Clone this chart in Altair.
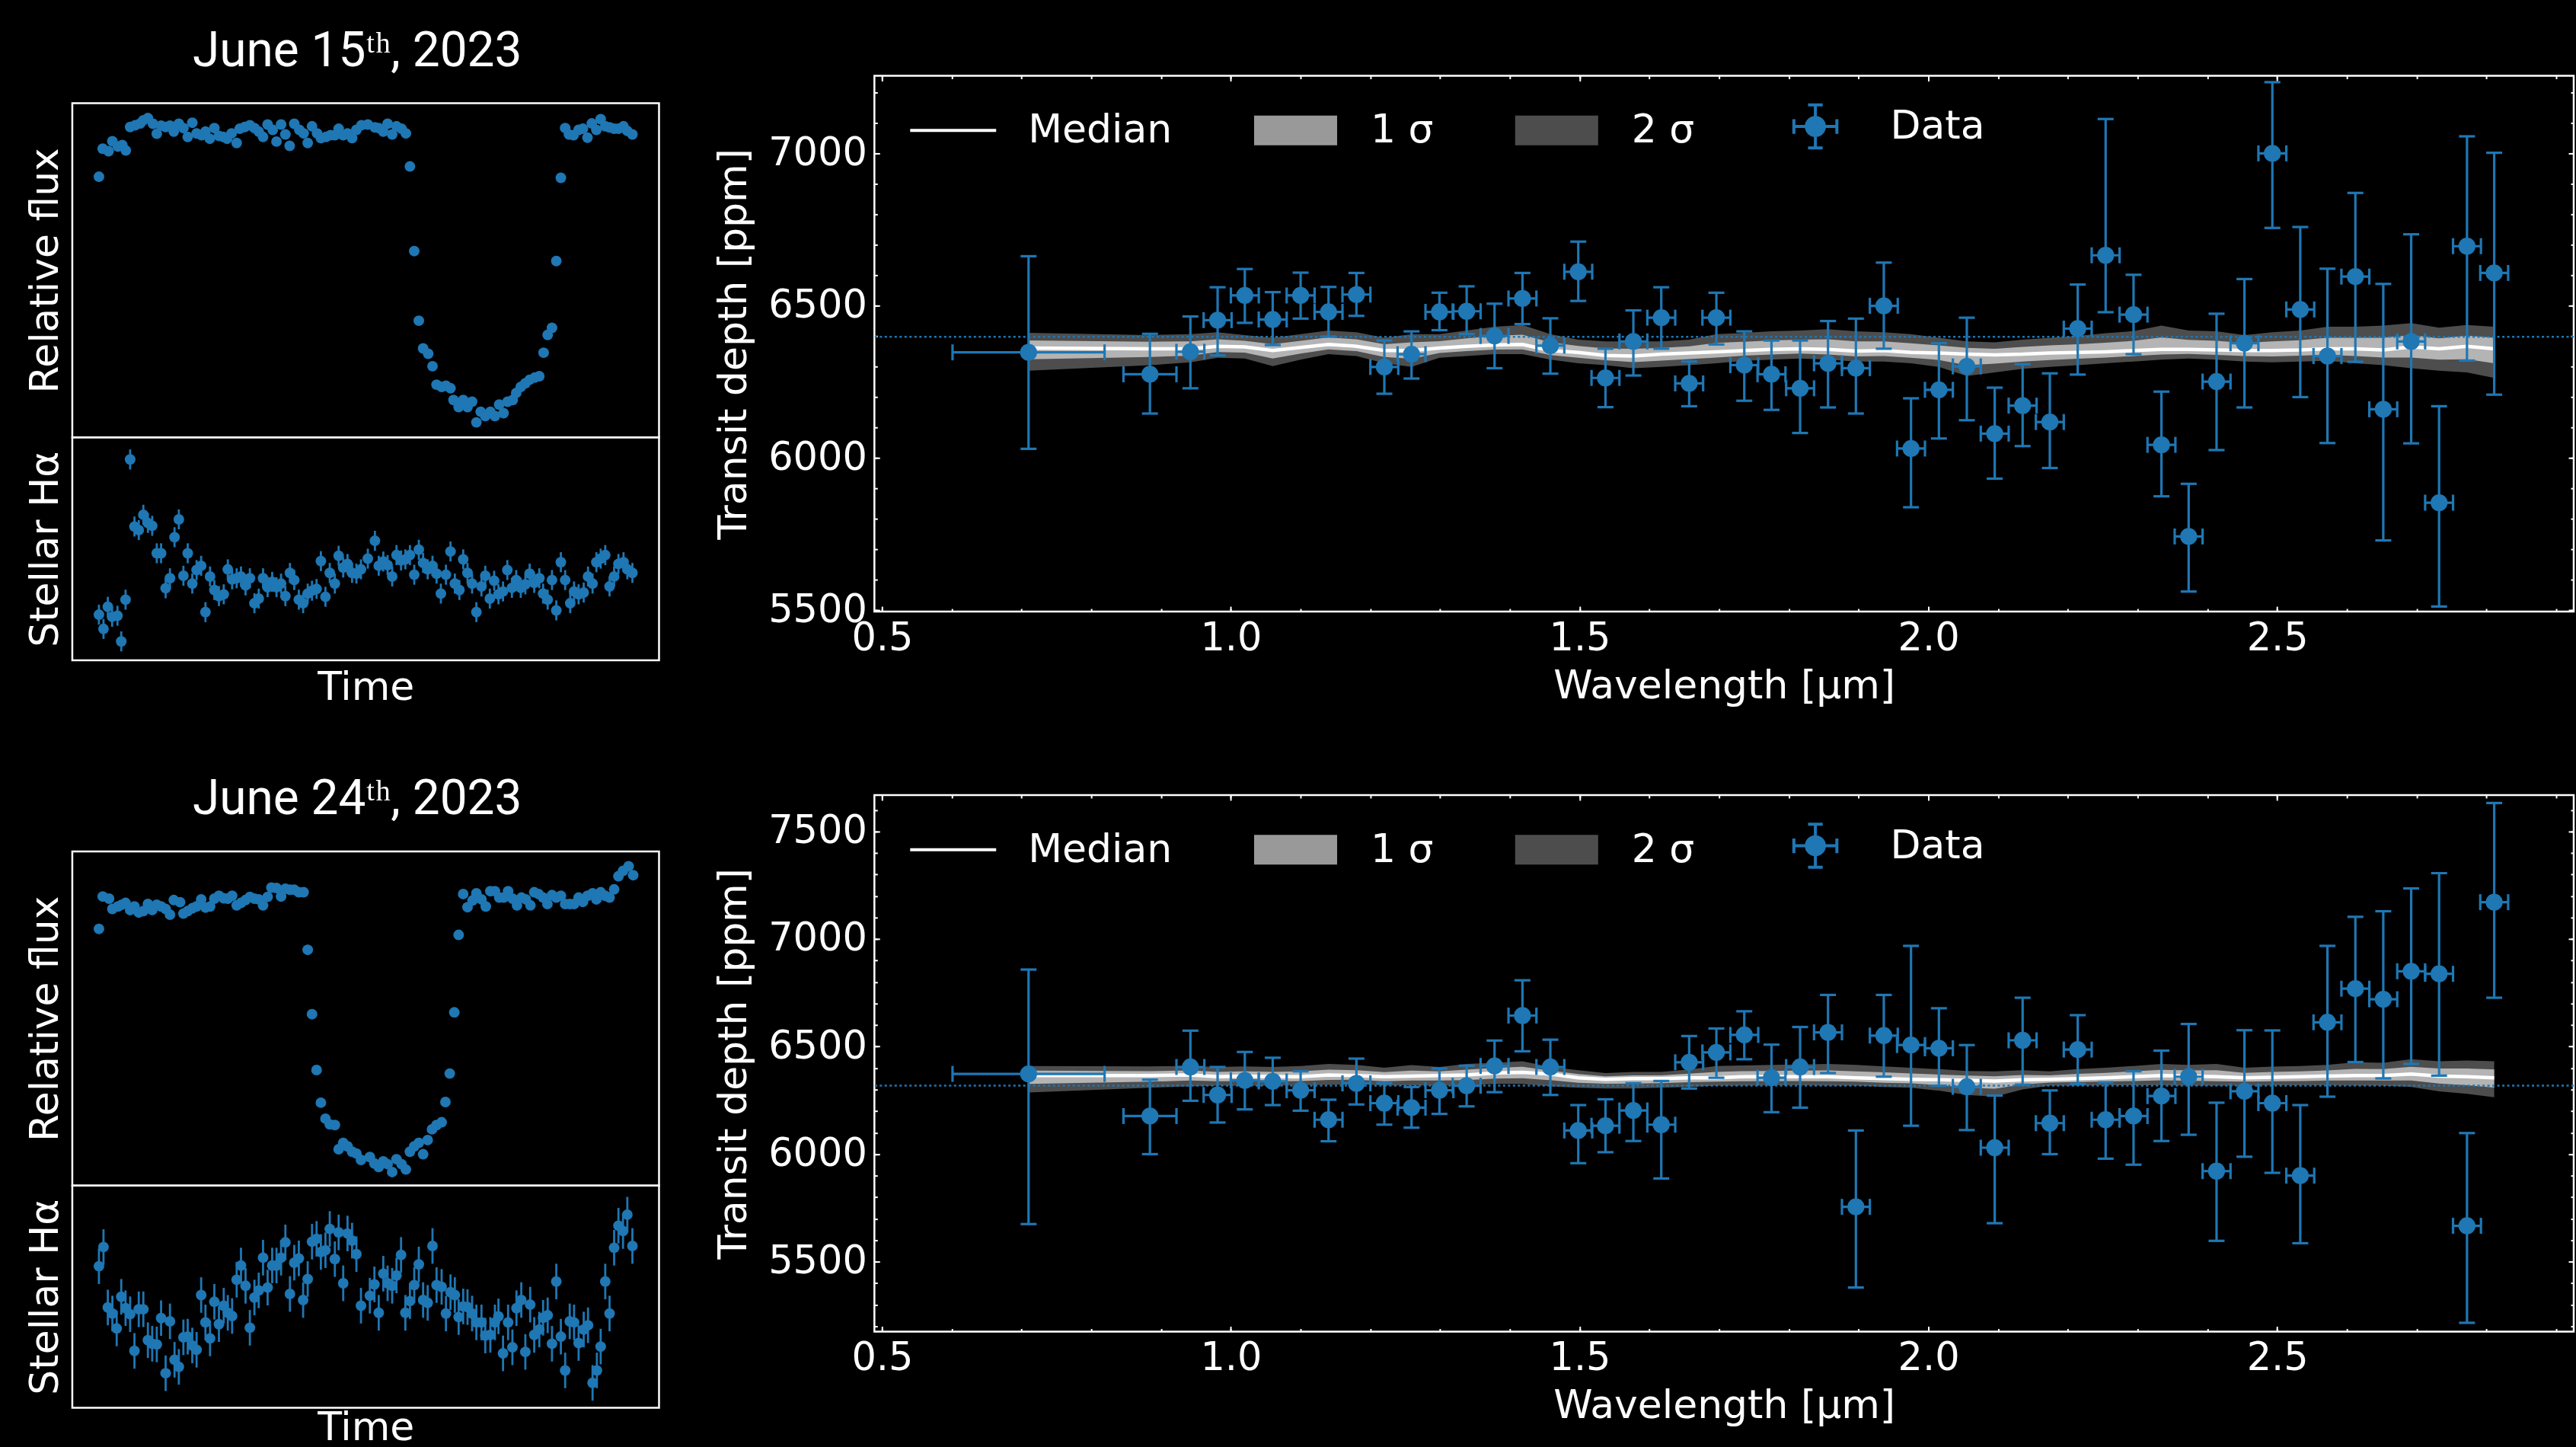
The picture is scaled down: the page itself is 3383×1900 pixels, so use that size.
import altair as alt
import pandas as pd

BLUE = "#1f77b4"
FONT = "DejaVu Sans"
TFONT = "Roboto"

# ---------------- Light curves (time in minutes, flux in ppm, H-alpha arbitrary units) -------------
lc1_flux_t = [10.5, 12.0, 14.3, 15.8, 18.0, 19.7, 21.1, 22.8, 24.8, 26.8,
              28.0, 29.8, 31.8, 33.3, 35.0, 36.8, 38.5, 40.0, 42.0, 43.8,
              45.5, 47.3, 49.0, 51.0, 52.5, 54.2, 56.0, 57.8, 59.5, 61.0,
              62.8, 64.8, 66.0, 68.0, 70.0, 71.8, 73.5, 75.2, 77.0, 79.0,
              80.5, 82.3, 84.0, 85.7, 87.5, 89.5, 91.2, 92.8, 94.5, 96.5,
              98.0, 100.0, 101.8, 103.5, 105.0, 106.8, 108.5, 110.3, 112.0, 114.0,
              116.5, 119.3, 120.8, 122.6, 124.3, 126.1, 127.8, 129.8, 131.5, 133.1,
              134.8, 136.6, 138.3, 140.3, 142.0, 143.6, 145.6, 147.3, 149.1, 150.3,
              152.3, 154.1, 155.8, 157.6, 159.3, 161.0, 162.8, 164.8, 166.6, 168.3,
              170.0, 171.6, 173.6, 175.0, 176.8, 178.6, 180.3, 182.3, 184.1, 185.8,
              187.4, 189.1, 190.8, 192.6, 194.3, 195.8, 197.6, 199.6, 201.3, 203.1,
              204.8, 206.6, 208.3, 210.1, 211.8, 213.6, 215.3, 217.3, 218.8, 220.8]
lc1_flux = [-1070, -280, -350, -70, -220, -180, -330, 330, 380, 430,
            520, 580, 420, 140, 370, 330, 370, 200, 420, 300,
            50, 450, 150, 100, 200, 0, 300, 80, 50, 0,
            150, -120, 280, 330, 380, 300, 200, 50, 400, 250,
            -80, 400, 120, -200, 420, 250, 150, -120, 350, 150,
            20, 50, 100, 100, 280, 100, 150, 20, 250, 380,
            400, 320, 300, 200, 420, 120, 350, 280, 150, -780,
            -3160, -5120, -5900, -6050, -6400, -6920, -6980, -6950, -7020, -7350,
            -7550, -7350, -7550, -7400, -7980, -7680, -7800, -7680, -7800, -7480,
            -7720, -7400, -7350, -7150, -6980, -6880, -6780, -6720, -6680, -6020,
            -5520, -5320, -3440, -1100, 300, 120, 100, 250, 280, 30,
            430, 250, 550, 350, 320, 280, 280, 350, 220, 120]
lc1_ha_t = [10.5, 12.3, 14.0, 15.7, 17.8, 19.3, 21.0, 22.8, 24.5, 26.2,
            28.0, 29.8, 31.5, 33.3, 35.0, 36.8, 38.5, 40.3, 42.0, 43.8,
            45.5, 47.3, 49.0, 50.8, 52.5, 54.3, 56.0, 57.8, 59.7, 61.3,
            63.0, 64.8, 66.5, 68.3, 70.0, 71.8, 73.5, 75.2, 77.0, 78.8,
            80.5, 82.3, 84.0, 85.8, 87.5, 89.3, 91.0, 92.8, 94.5, 96.3,
            98.0, 99.8, 101.5, 103.5, 105.0, 106.8, 108.5, 110.3, 112.0, 113.8,
            116.5, 119.3, 120.8, 122.6, 124.3, 126.1, 127.8, 129.6, 131.3, 133.1,
            134.8, 136.6, 138.3, 140.1, 142.0, 143.6, 145.3, 147.3, 149.1, 150.8,
            152.6, 154.1, 155.8, 157.6, 159.3, 161.3, 162.8, 164.6, 166.3, 168.0,
            169.8, 171.5, 173.3, 175.0, 176.8, 178.6, 180.3, 182.1, 184.1, 185.6,
            187.4, 189.1, 190.8, 192.6, 194.3, 196.3, 197.8, 199.6, 201.6, 203.3,
            205.1, 206.6, 208.3, 210.1, 211.8, 213.6, 215.3, 217.3, 218.8, 220.8]
lc1_ha = [128, 88, 150, 122, 125, 53, 170, 563, 375, 365,
          408, 385, 377, 300, 300, 202, 230, 345, 395, 237,
          300, 215, 253, 265, 135, 235, 197, 180, 185, 255,
          227, 230, 235, 210, 230, 160, 173, 230, 205, 220,
          205, 215, 180, 245, 225, 170, 160, 187, 195, 200,
          278, 178, 245, 215, 293, 260, 270, 245, 243, 255,
          285, 335, 265, 277, 267, 235, 295, 280, 283, 295,
          240, 310, 273, 255, 265, 243, 187, 240, 305, 215,
          197, 283, 245, 215, 135, 207, 237, 173, 223, 185,
          193, 253, 203, 225, 203, 213, 243, 217, 230, 187,
          170, 225, 140, 275, 225, 160, 193, 185, 190, 235,
          215, 275, 285, 295, 207, 235, 270, 275, 255, 245]
lc1_ha_err = 28

lc2_flux_t = [10.5, 12.0, 14.5, 15.8, 18.0, 19.5, 21.0, 22.8, 24.5, 26.2,
              28.0, 29.8, 31.5, 33.3, 35.0, 36.8, 38.5, 40.0, 42.5, 43.8,
              45.5, 47.3, 49.0, 50.8, 52.5, 54.3, 56.0, 57.8, 59.7, 61.3,
              63.0, 64.8, 66.5, 68.3, 70.0, 71.8, 73.5, 75.2, 77.0, 78.5,
              80.5, 82.3, 84.0, 85.8, 87.5, 89.3, 91.2, 92.8, 94.5, 96.3,
              98.0, 99.8, 101.5, 103.5, 105.0, 106.8, 108.5, 110.3, 112.0, 113.8,
              117.3, 119.1, 120.8, 122.6, 124.3, 126.1, 127.8, 129.8, 131.5, 133.1,
              134.8, 136.6, 138.3, 140.1, 141.8, 143.6, 145.6, 147.1, 148.8, 150.6,
              152.3, 154.1, 155.8, 157.8, 159.3, 161.3, 163.0, 164.8, 166.6, 168.3,
              170.1, 171.8, 173.6, 175.3, 177.1, 178.8, 180.6, 182.1, 183.8, 185.6,
              187.3, 189.1, 190.8, 192.6, 194.3, 196.1, 197.8, 199.6, 201.3, 203.1,
              205.1, 206.6, 208.3, 210.1, 211.8, 213.6, 215.3, 217.1, 219.3, 221.1]
lc2_flux = [-1180, -270, -330, -620, -550, -500, -450, -650, -550, -720,
            -680, -480, -650, -500, -550, -620, -780, -370, -430, -750,
            -680, -600, -550, -350, -580, -550, -330, -250, -320, -330,
            -250, -520, -450, -370, -280, -330, -350, -520, -280, -20,
            -30, -270, -50, -80, -80, -150, -150, -1770, -3580, -5150,
            -6070, -6520, -6680, -6700, -7380, -7200, -7300, -7450, -7500, -7680,
            -7600, -7780, -7880, -7720, -7800, -8020, -7660, -7800, -7950, -7450,
            -7300, -7200, -7520, -7120, -6820, -6700, -6620, -6050, -5250, -3530,
            -1350, -200, -570, -380, -180, -350, -550, -120, -120, -300,
            -300, -120, -330, -520, -300, -350, -520, -150, -200, -300,
            -480, -230, -300, -250, -480, -480, -480, -300, -420, -250,
            -180, -350, -150, -250, -300, -70, 300, 450, 580, 330]
lc2_ha_t = [10.5, 12.3, 14.0, 15.8, 17.5, 19.3, 21.0, 22.8, 24.5, 26.2,
            28.0, 29.8, 31.5, 33.3, 35.0, 36.8, 38.5, 40.3, 42.0, 43.8,
            45.5, 47.3, 49.0, 50.8, 52.5, 54.3, 56.0, 57.8, 59.7, 61.3,
            63.0, 64.8, 66.5, 68.3, 70.0, 71.8, 73.5, 75.2, 77.0, 78.8,
            80.5, 82.3, 84.0, 85.8, 87.5, 89.3, 91.0, 92.8, 94.5, 96.3,
            98.0, 99.8, 101.5, 103.5, 105.0, 106.8, 108.5, 110.3, 112.0, 113.8,
            117.3, 119.1, 120.8, 122.6, 124.3, 126.1, 127.8, 129.6, 131.3, 133.1,
            134.8, 136.6, 138.3, 140.1, 142.0, 143.6, 145.6, 147.3, 149.1, 150.8,
            152.3, 154.1, 155.8, 157.6, 159.3, 161.3, 162.8, 164.8, 166.6, 168.0,
            169.8, 171.8, 173.5, 175.1, 177.0, 178.6, 180.5, 182.1, 184.1, 185.6,
            187.4, 189.1, 190.8, 192.6, 194.3, 196.1, 197.8, 199.6, 201.6, 203.3,
            205.1, 206.8, 208.3, 210.1, 211.8, 213.6, 215.3, 217.1, 218.8, 220.8]
lc2_ha = [398, 452, 282, 265, 223, 312, 280, 263, 160, 277,
          277, 190, 180, 178, 252, 97, 243, 135, 115, 198,
          200, 175, 163, 317, 240, 195, 298, 235, 287, 267,
          258, 360, 400, 343, 225, 310, 330, 422, 338, 400,
          400, 422, 465, 320, 408, 420, 303, 362, 467, 475,
          438, 443, 503, 418, 493, 350, 490, 470, 432, 287,
          315, 347, 267, 377, 350, 343, 372, 430, 267, 300,
          345, 403, 303, 295, 455, 345, 340, 265, 325, 317,
          255, 285, 283, 265, 240, 240, 203, 205, 240, 257,
          153, 240, 170, 280, 303, 157, 290, 205, 220, 253,
          260, 180, 355, 200, 105, 243, 240, 182, 220, 232,
          70, 105, 172, 355, 265, 450, 512, 497, 543, 455]
lc2_ha_err = 50

# ---------------- Transmission spectra -------------
wavelength = [0.710, 0.884, 0.942, 0.981, 1.020, 1.060, 1.100, 1.140, 1.180, 1.220,
              1.259, 1.299, 1.338, 1.378, 1.418, 1.458, 1.498, 1.537, 1.577, 1.617,
              1.657, 1.696, 1.736, 1.775, 1.816, 1.856, 1.896, 1.936, 1.975, 2.015,
              2.055, 2.095, 2.135, 2.174, 2.214, 2.254, 2.294, 2.334, 2.373, 2.413,
              2.453, 2.493, 2.533, 2.572, 2.612, 2.652, 2.692, 2.732, 2.772, 2.811]
wl_halfwidth = [0.109, 0.038, 0.020, 0.020, 0.020, 0.020, 0.020, 0.020, 0.020, 0.020,
                0.020, 0.020, 0.020, 0.020, 0.020, 0.020, 0.020, 0.020, 0.020, 0.020,
                0.020, 0.020, 0.020, 0.020, 0.020, 0.020, 0.020, 0.020, 0.020, 0.020,
                0.020, 0.020, 0.020, 0.020, 0.020, 0.020, 0.020, 0.020, 0.020, 0.020,
                0.020, 0.020, 0.020, 0.020, 0.020, 0.020, 0.020, 0.020, 0.020, 0.020]

depth1 = [6347, 6275, 6349, 6453, 6534, 6455, 6534, 6480, 6537, 6299,
          6341, 6480, 6482, 6401, 6524, 6369, 6612, 6263, 6383, 6461,
          6245, 6461, 6305, 6275, 6229, 6311, 6295, 6500, 6031, 6224,
          6301, 6080, 6172, 6118, 6425, 6666, 6471, 6043, 5742, 6251,
          6377, 7001, 6488, 6335, 6596, 6160, 6383, 5853, 6696, 6608]
err_up1 = [316, 133, 116, 108, 87, 90, 75, 82, 71, 87,
           75, 63, 82, 106, 84, 90, 99, 96, 102, 100,
           72, 82, 111, 111, 157, 139, 163, 142, 165, 153,
           160, 151, 136, 160, 145, 448, 131, 175, 173, 223,
           211, 234, 271, 287, 275, 412, 352, 317, 361, 395]
err_lo1 = [317, 129, 120, 116, 90, 84, 76, 81, 70, 88,
           80, 60, 75, 106, 84, 92, 96, 96, 112, 102,
           75, 88, 117, 117, 147, 145, 149, 141, 193, 160,
           177, 148, 133, 151, 151, 187, 130, 169, 181, 225,
           211, 245, 288, 286, 280, 431, 335, 341, 376, 400]
median1 = [6361, 6359, 6359, 6367, 6365, 6353, 6363, 6373, 6367, 6353,
           6353, 6361, 6367, 6371, 6373, 6353, 6347, 6337, 6335, 6341,
           6345, 6349, 6353, 6357, 6359, 6357, 6351, 6353, 6347, 6345,
           6341, 6339, 6341, 6345, 6347, 6349, 6353, 6357, 6357, 6355,
           6353, 6353, 6355, 6359, 6359, 6355, 6365, 6359, 6367, 6359]
s1_hi1 = [6386, 6382, 6383, 6390, 6385, 6374, 6385, 6396, 6390, 6374,
          6380, 6384, 6393, 6401, 6405, 6380, 6368, 6360, 6359, 6362,
          6367, 6378, 6382, 6386, 6389, 6390, 6383, 6383, 6377, 6370,
          6362, 6359, 6365, 6370, 6374, 6379, 6385, 6396, 6388, 6385,
          6378, 6383, 6387, 6395, 6395, 6395, 6404, 6393, 6402, 6395]
s1_lo1 = [6324, 6332, 6336, 6348, 6346, 6327, 6343, 6357, 6351, 6332,
          6326, 6345, 6351, 6356, 6357, 6338, 6329, 6321, 6315, 6320,
          6325, 6330, 6336, 6340, 6343, 6340, 6334, 6335, 6329, 6322,
          6305, 6310, 6317, 6322, 6326, 6330, 6335, 6340, 6342, 6339,
          6335, 6334, 6336, 6339, 6335, 6330, 6330, 6323, 6324, 6311]
s2_hi1 = [6411, 6404, 6407, 6413, 6404, 6395, 6407, 6419, 6413, 6395,
          6407, 6407, 6419, 6431, 6437, 6407, 6389, 6383, 6383, 6383,
          6389, 6407, 6411, 6416, 6419, 6423, 6416, 6413, 6407, 6395,
          6383, 6380, 6389, 6395, 6401, 6410, 6417, 6435, 6419, 6416,
          6404, 6413, 6419, 6431, 6431, 6435, 6443, 6428, 6437, 6431]
s2_lo1 = [6287, 6305, 6314, 6329, 6327, 6302, 6323, 6341, 6335, 6311,
          6299, 6329, 6335, 6341, 6341, 6323, 6311, 6305, 6295, 6299,
          6305, 6311, 6319, 6323, 6327, 6323, 6317, 6317, 6311, 6299,
          6269, 6281, 6293, 6299, 6305, 6311, 6317, 6323, 6327, 6323,
          6317, 6314, 6317, 6319, 6311, 6305, 6295, 6287, 6281, 6263]
ref_level1 = 6398

depth2 = [6373, 6177, 6405, 6275, 6343, 6338, 6297, 6160, 6329, 6237,
          6216, 6297, 6318, 6410, 6644, 6405, 6110, 6132, 6203, 6137,
          6427, 6473, 6554, 6355, 6405, 6566, 5755, 6551, 6507, 6492,
          6313, 6030, 6529, 6144, 6486, 6160, 6177, 6270, 6360, 5921,
          6292, 6237, 5900, 6613, 6769, 6720, 6850, 6838, 5667, 7171]
err_up2 = [485, 169, 169, 130, 132, 110, 88, 93, 115, 93,
           96, 101, 93, 118, 164, 127, 118, 123, 127, 203,
           122, 111, 110, 154, 186, 174, 355, 189, 461, 186,
           194, 242, 198, 152, 160, 174, 208, 211, 245, 318,
           284, 338, 328, 355, 334, 409, 385, 468, 431, 461]
err_lo2 = [698, 177, 157, 128, 135, 110, 95, 100, 98, 100,
           93, 110, 96, 122, 166, 130, 152, 123, 142, 250,
           122, 118, 113, 160, 189, 189, 375, 191, 375, 174,
           201, 351, 206, 144, 160, 181, 226, 209, 270, 324,
           304, 324, 314, 346, 341, 368, 431, 473, 451, 444]
median2 = [6365, 6365, 6368, 6360, 6363, 6360, 6360, 6368, 6365, 6360,
           6363, 6365, 6368, 6377, 6380, 6372, 6355, 6348, 6351, 6351,
           6355, 6355, 6360, 6360, 6360, 6360, 6355, 6351, 6348, 6346,
           6343, 6340, 6346, 6348, 6351, 6355, 6360, 6365, 6363, 6360,
           6355, 6357, 6360, 6363, 6365, 6365, 6372, 6363, 6360, 6355]
s1_hi2 = [6388, 6386, 6389, 6382, 6385, 6382, 6385, 6393, 6390, 6381,
          6388, 6385, 6393, 6401, 6406, 6388, 6372, 6362, 6366, 6366,
          6374, 6382, 6386, 6387, 6388, 6389, 6385, 6380, 6375, 6370,
          6365, 6362, 6368, 6366, 6373, 6378, 6385, 6392, 6389, 6390,
          6378, 6382, 6385, 6389, 6396, 6395, 6406, 6398, 6398, 6394]
s1_lo2 = [6326, 6337, 6342, 6339, 6340, 6339, 6340, 6345, 6346, 6339,
          6342, 6342, 6344, 6351, 6353, 6344, 6332, 6327, 6328, 6330,
          6334, 6337, 6339, 6340, 6340, 6339, 6337, 6332, 6329, 6321,
          6309, 6304, 6324, 6333, 6335, 6338, 6340, 6343, 6341, 6339,
          6337, 6339, 6340, 6342, 6342, 6342, 6342, 6328, 6320, 6310]
s2_hi2 = [6410, 6408, 6410, 6405, 6408, 6405, 6410, 6419, 6415, 6402,
          6414, 6405, 6419, 6425, 6432, 6405, 6390, 6377, 6382, 6382,
          6394, 6410, 6412, 6415, 6417, 6419, 6415, 6408, 6402, 6395,
          6387, 6385, 6390, 6385, 6395, 6402, 6410, 6419, 6415, 6419,
          6402, 6407, 6410, 6415, 6427, 6425, 6441, 6432, 6435, 6432]
s2_lo2 = [6287, 6309, 6315, 6318, 6318, 6318, 6320, 6322, 6326, 6318,
          6320, 6318, 6320, 6326, 6326, 6315, 6309, 6305, 6305, 6309,
          6312, 6318, 6318, 6320, 6320, 6318, 6318, 6312, 6309, 6295,
          6275, 6267, 6301, 6318, 6318, 6320, 6320, 6320, 6318, 6318,
          6318, 6320, 6320, 6320, 6318, 6318, 6312, 6292, 6280, 6264]
ref_level2 = 6318

x_major = [0.5, 1.0, 1.5, 2.0, 2.5]
x_minor = [0.5, 0.6, 0.7, 0.8, 0.9, 1.0, 1.1, 1.2, 1.3, 1.4, 1.5, 1.6, 1.7,
           1.8, 1.9, 2.0, 2.1, 2.2, 2.3, 2.4, 2.5, 2.6, 2.7, 2.8, 2.9]
y1_major = [5500, 6000, 6500, 7000]
y1_minor = [5500, 5600, 5700, 5800, 5900, 6000, 6100, 6200, 6300, 6400, 6500,
            6600, 6700, 6800, 6900, 7000, 7100, 7200]
y2_major = [5500, 6000, 6500, 7000, 7500]
y2_minor = [5200, 5300, 5400, 5500, 5600, 5700, 5800, 5900, 6000, 6100, 6200,
            6300, 6400, 6500, 6600, 6700, 6800, 6900, 7000, 7100, 7200, 7300,
            7400, 7500, 7600]

legend_labels = ["Median", "1 σ", "2 σ", "Data"]
legend_colors = ["#ffffff", "#999999", "#4d4d4d", BLUE]

XDOM = [0.489, 2.925]
TDOM = [0, 231.3]
FDOM = [-8400, 1000]
HDOM = [0, 625]

side_axis = dict(labels=False, ticks=False, domain=False, grid=False,
                 titleFont=FONT, titleFontSize=52, titleFontWeight="normal",
                 titleColor="white")


def lc_flux(t, f, title):
    df = pd.DataFrame({"t": t, "f": f})
    return alt.Chart(df).mark_circle(size=195, color=BLUE, opacity=1).encode(
        x=alt.X("t:Q", scale=alt.Scale(domain=TDOM, nice=False, zero=False), axis=None),
        y=alt.Y("f:Q", scale=alt.Scale(domain=FDOM, nice=False, zero=False),
                axis=alt.Axis(title="Relative flux", titlePadding=8, **side_axis)),
    ).properties(width=771, height=439,
                 title=alt.TitleParams(text=title, font=TFONT, fontSize=64, fontWeight="normal",
                                       color="white", anchor="middle", baseline="alphabetic",
                                       offset=45, dy=60, dx=-11, frame="group"))


def lc_ha(t, h, err, height, time_pad):
    df = pd.DataFrame({"t": t, "h": h})
    df["lo"] = df["h"] - err
    df["hi"] = df["h"] + err
    xs = alt.Scale(domain=TDOM, nice=False, zero=False)
    ys = alt.Scale(domain=HDOM, nice=False, zero=False)
    xax = alt.Axis(title="Time", titlePadding=time_pad, titleBaseline="bottom", **side_axis)
    yax = alt.Axis(title="Stellar Hα", titlePadding=8, **side_axis)
    base = alt.Chart(df)
    bars = base.mark_rule(color=BLUE, strokeWidth=2.8).encode(
        x=alt.X("t:Q", scale=xs, axis=xax),
        y=alt.Y("lo:Q", scale=ys, axis=yax), y2="hi:Q")
    pts = base.mark_circle(size=195, color=BLUE, opacity=1).encode(
        x=alt.X("t:Q", scale=xs, axis=xax),
        y=alt.Y("h:Q", scale=ys, axis=yax))
    return alt.layer(bars, pts).properties(width=771, height=height)


def spacer(h):
    return alt.Chart(pd.DataFrame({"a": [0]})).mark_point(opacity=0).encode(
        x=alt.X("a:Q", axis=None), y=alt.Y("a:Q", axis=None)
    ).properties(width=771, height=h, view=alt.ViewBackground(stroke="transparent"))


def spectrum(depth, eu, el, med, lo1, hi1, lo2, hi2, ref, ydom, ymaj, ymin, height):
    df = pd.DataFrame({"w": wavelength, "xe": wl_halfwidth, "d": depth, "eu": eu, "el": el})
    df["dlo"] = df["d"] - df["el"]
    df["dhi"] = df["d"] + df["eu"]
    df["wlo"] = df["w"] - df["xe"]
    df["whi"] = df["w"] + df["xe"]
    mdf = pd.DataFrame({"w": wavelength, "med": med, "lo1": lo1, "hi1": hi1, "lo2": lo2, "hi2": hi2})
    xs = alt.Scale(domain=XDOM, nice=False, zero=False)
    ys = alt.Scale(domain=ydom, nice=False, zero=False)

    def tick_layer(ox, oy, xv, yv, size):
        ax = alt.Axis(orient=ox, offset=-size, tickSize=size, tickWidth=2, tickColor="white",
                      values=xv, labels=False, domain=False, grid=False, title=None)
        ay = alt.Axis(orient=oy, offset=-size, tickSize=size, tickWidth=2, tickColor="white",
                      values=yv, labels=False, domain=False, grid=False, title=None)
        return alt.Chart(mdf).mark_point(opacity=0).encode(
            x=alt.X("w:Q", scale=xs, axis=ax), y=alt.Y("med:Q", scale=ys, axis=ay))

    ticks = [tick_layer("bottom", "left", x_major, ymaj, 7),
             tick_layer("bottom", "left", x_minor, ymin, 4),
             tick_layer("top", "right", x_major, ymaj, 7),
             tick_layer("top", "right", x_minor, ymin, 4)]

    band2 = alt.Chart(mdf).mark_area(color="#4d4d4d", opacity=1).encode(
        x=alt.X("w:Q", scale=xs, axis=None), y=alt.Y("lo2:Q", scale=ys, axis=None), y2="hi2:Q")
    band1 = alt.Chart(mdf).mark_area(color="#b4b4b4", opacity=1).encode(
        x=alt.X("w:Q", scale=xs, axis=None), y=alt.Y("lo1:Q", scale=ys, axis=None), y2="hi1:Q")
    mline = alt.Chart(mdf).mark_line(color="white", strokeWidth=4.5).encode(
        x=alt.X("w:Q", scale=xs, axis=None), y=alt.Y("med:Q", scale=ys, axis=None))
    refl = alt.Chart(pd.DataFrame({"r": [ref]})).mark_rule(
        color=BLUE, strokeDash=[3, 3.5], strokeWidth=2.5).encode(
        y=alt.Y("r:Q", scale=ys, axis=None))

    base = alt.Chart(df)
    xbar = base.mark_rule(color=BLUE, strokeWidth=3.2).encode(
        x=alt.X("wlo:Q", scale=xs, axis=None), x2="whi:Q", y=alt.Y("d:Q", scale=ys, axis=None))
    ybar = base.mark_rule(color=BLUE, strokeWidth=3.2).encode(
        x=alt.X("w:Q", scale=xs, axis=None), y=alt.Y("dlo:Q", scale=ys, axis=None), y2="dhi:Q")
    capt = base.mark_tick(orient="horizontal", size=21, thickness=3.2, color=BLUE, opacity=1)
    cap_hi = capt.encode(x=alt.X("w:Q", scale=xs, axis=None), y=alt.Y("dhi:Q", scale=ys, axis=None))
    cap_lo = capt.encode(x=alt.X("w:Q", scale=xs, axis=None), y=alt.Y("dlo:Q", scale=ys, axis=None))
    capv = base.mark_tick(orient="vertical", size=21, thickness=3.2, color=BLUE, opacity=1)
    cap_l = capv.encode(x=alt.X("wlo:Q", scale=xs, axis=None), y=alt.Y("d:Q", scale=ys, axis=None))
    cap_r = capv.encode(x=alt.X("whi:Q", scale=xs, axis=None), y=alt.Y("d:Q", scale=ys, axis=None))

    pts = base.mark_circle(size=500, color=BLUE, opacity=1).encode(
        x=alt.X("w:Q", scale=xs, axis=alt.Axis(
            orient="bottom", values=x_major, format=".1f", labelFont=FONT, labelFontSize=51,
            labelColor="white", labelPadding=10, ticks=False, tickSize=0, domain=False, grid=False,
            labelFlush=False, labelOverlap=False, title="Wavelength [µm]", titleFont=FONT,
            titleFontSize=52, titleFontWeight="normal", titleColor="white", titlePadding=12)),
        y=alt.Y("d:Q", scale=ys, axis=alt.Axis(
            orient="left", values=ymaj, format="d", labelFont=FONT, labelFontSize=51,
            labelColor="white", labelPadding=10, ticks=False, tickSize=0, domain=False, grid=False,
            labelFlush=False, labelOverlap=False, title="Transit depth [ppm]", titleFont=FONT,
            titleFontSize=52, titleFontWeight="normal", titleColor="white", titlePadding=18)))

    paths = [
        "M-1,0H1",
        "M-0.93,-0.31H0.93V0.31H-0.93Z",
        "M-0.93,-0.31H0.93V0.31H-0.93Z",
        "M-0.5,0H0.5M0,-0.5V0.5M-0.17,-0.5H0.17M-0.17,0.5H0.17M-0.5,-0.17V0.17M0.5,-0.17V0.17"
        "M0.21,0C0.21,0.116,0.116,0.21,0,0.21C-0.116,0.21,-0.21,0.116,-0.21,0"
        "C-0.21,-0.116,-0.116,-0.21,0,-0.21C0.116,-0.21,0.21,-0.116,0.21,0Z",
    ]
    leg = alt.Legend(title=None, orient="none", legendX=45, legendY=8, direction="horizontal",
                     symbolSize=12769, symbolStrokeWidth=4, symbolOpacity=1,
                     labelFont=FONT, labelFontSize=52, labelColor="white", labelOffset=40,
                     labelLimit=500, columnPadding=100, padding=0, symbolLimit=0)
    ldf = pd.DataFrame({"series": legend_labels, "w": [1.0, 1.0, 1.0, 1.0],
                        "d": [6300, 6300, 6300, 6300]})
    legl = alt.Chart(ldf).mark_point(filled=True, opacity=0, size=1).encode(
        x=alt.X("w:Q", scale=xs, axis=None), y=alt.Y("d:Q", scale=ys, axis=None),
        fill=alt.Fill("series:N", scale=alt.Scale(domain=legend_labels, range=legend_colors), legend=leg),
        stroke=alt.Stroke("series:N", scale=alt.Scale(domain=legend_labels, range=legend_colors), legend=leg),
        shape=alt.Shape("series:N", scale=alt.Scale(domain=legend_labels, range=paths), legend=leg),
    )

    layers = ticks + [band2, band1, mline, refl, xbar, ybar, cap_hi, cap_lo, cap_l, cap_r, pts, legl]
    return alt.layer(*layers).resolve_axis(x="independent", y="independent").properties(
        width=2233, height=height)


lc1_f = lc_flux(lc1_flux_t, lc1_flux, "June 15ᵗʰ, 2023")
lc1_h = lc_ha(lc1_ha_t, lc1_ha, lc1_ha_err, 293, 62)
lc2_f = lc_flux(lc2_flux_t, lc2_flux, "June 24ᵗʰ, 2023")
lc2_h = lc_ha(lc2_ha_t, lc2_ha, lc2_ha_err, 292, 53)

spec1 = spectrum(depth1, err_up1, err_lo1, median1, s1_lo1, s1_hi1, s2_lo1, s2_hi1, ref_level1,
                 [5495, 7256], y1_major, y1_minor, 704)
spec2 = spectrum(depth2, err_up2, err_lo2, median2, s1_lo2, s1_hi2, s2_lo2, s2_hi2, ref_level2,
                 [5175, 7669], y2_major, y2_minor, 705)

left = alt.vconcat(spacer(36), lc1_f, lc1_h, spacer(251), lc2_f, lc2_h, spacing=0, bounds="flush")
right = alt.vconcat(spec1, spec2, spacing=241, bounds="flush").resolve_scale(
    fill="independent", stroke="independent", shape="independent").resolve_legend(
    fill="independent", stroke="independent", shape="independent")

# nested concat groups count as zero width in a flush layout, so spacing = left width + gap
chart = alt.hconcat(left, right, spacing=1054, bounds="flush").resolve_scale(
    fill="independent", stroke="independent", shape="independent").configure(
    background="black", padding={"left": 32, "top": 33, "right": 0, "bottom": 0}
).configure_view(stroke="white", strokeWidth=2.5)

chart.save("out.html", embed_options={"renderer": "svg", "actions": False})
